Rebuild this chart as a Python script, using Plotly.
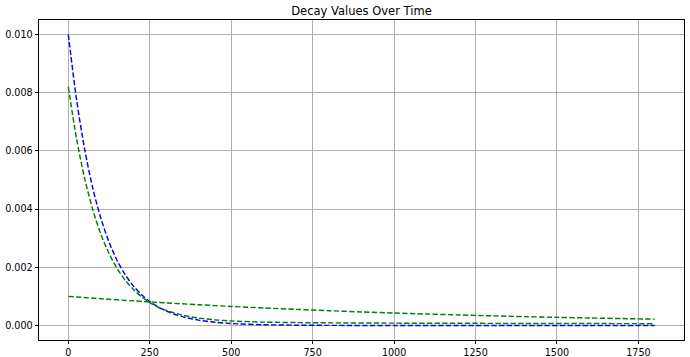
import plotly.graph_objects as go

# Time points (x) for the two fast-decaying curves
t_fast = [0, 25, 50, 75, 100, 125, 150, 175, 200, 225, 250, 275, 300, 350, 400, 450, 500,
          600, 700, 800, 1000, 1200, 1400, 1600, 1800]
blue_vals = [0.01000, 0.007788, 0.006065, 0.004724, 0.003679, 0.002865, 0.002231, 0.001738,
             0.001353, 0.001054, 0.000821, 0.000639, 0.000498, 0.000302, 0.000183, 0.000111,
             0.000067, 0.000025, 0.000009, 0.000003, 0.000001, 0.0, 0.0, 0.0, 0.0]
green_fast_vals = [0.00820, 0.006439, 0.005060, 0.003980, 0.003135, 0.002474, 0.001955,
                   0.001550, 0.001232, 0.000983, 0.000787, 0.000634, 0.000520, 0.000355,
                   0.000255, 0.000192, 0.000155, 0.000115, 0.000098, 0.000090, 0.000080,
                   0.000074, 0.000069, 0.000065, 0.000061]

# Time points for the slow-decaying curve
t_slow = [0, 100, 200, 300, 400, 500, 600, 700, 800, 900, 1000, 1100, 1200, 1300, 1400,
          1500, 1600, 1700, 1800]
green_slow_vals = [0.001000, 0.000919, 0.000844, 0.000775, 0.000712, 0.000654, 0.000601,
                   0.000552, 0.000507, 0.000465, 0.000427, 0.000393, 0.000361, 0.000331,
                   0.000304, 0.000279, 0.000257, 0.000236, 0.000217]

x_ticks = [0, 250, 500, 750, 1000, 1250, 1500, 1750]
y_ticks = [0.000, 0.002, 0.004, 0.006, 0.008, 0.010]

FONT = "DejaVu Sans"
dash = "5.3px,2.3px"

fig = go.Figure()
fig.add_trace(go.Scatter(x=t_fast, y=blue_vals, mode="lines",
                         line=dict(color="#0000ff", width=1.45, dash=dash, shape="spline", smoothing=0.8),
                         showlegend=False))
fig.add_trace(go.Scatter(x=t_fast, y=green_fast_vals, mode="lines",
                         line=dict(color="#008000", width=1.45, dash=dash, shape="spline", smoothing=0.8),
                         showlegend=False))
fig.add_trace(go.Scatter(x=t_slow, y=green_slow_vals, mode="lines",
                         line=dict(color="#008000", width=1.45, dash=dash, shape="spline", smoothing=0.8),
                         showlegend=False))

axis_common = dict(
    showgrid=True, gridcolor="#b0b0b0", gridwidth=0.8,
    showline=True, linecolor="black", linewidth=0.8, mirror=True,
    ticks="outside", ticklen=3.5, tickwidth=0.8, tickcolor="black",
    zeroline=False, automargin=False,
    tickfont=dict(family=FONT, size=9.6, color="black"),
)

fig.update_layout(
    width=690, height=357,
    margin=dict(l=39, r=6, t=20, b=17),
    paper_bgcolor="white", plot_bgcolor="white",
    title=dict(text="Decay Values Over Time", x=0.5, xref="paper", xanchor="center",
               y=1, yref="paper", yanchor="bottom", pad=dict(b=5),
               font=dict(family=FONT, size=11.5, color="black")),
    font=dict(family=FONT),
    xaxis=dict(range=[-90, 1890], tickvals=x_ticks, ticktext=[str(v) for v in x_ticks],
               ticklabelstandoff=0, **axis_common),
    yaxis=dict(range=[-0.0005, 0.0105], tickvals=y_ticks, ticktext=[f"{v:.3f}" for v in y_ticks],
               **axis_common),
)

fig.write_html("out.html",
               config={"displayModeBar": False},
               post_script="document.body.style.margin='0';document.body.style.padding='0';"
                           "document.body.style.overflow='hidden';")
